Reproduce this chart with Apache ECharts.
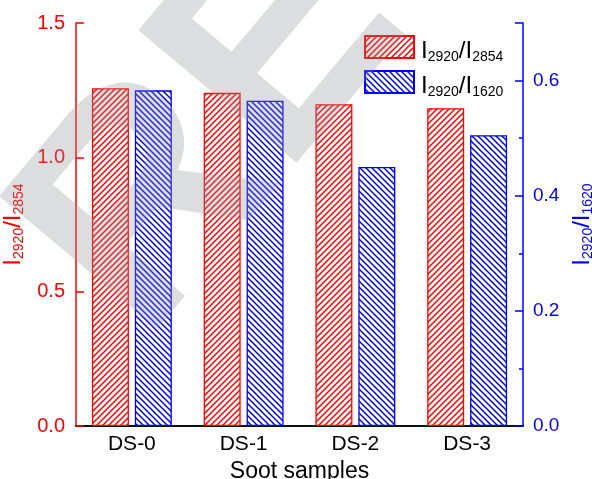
<!DOCTYPE html>
<html>
<head>
<meta charset="utf-8">
<script src="https://cdn.jsdelivr.net/npm/echarts@6/dist/echarts.min.js"></script>
<style>
html,body{margin:0;padding:0;background:#fff;}
#c{width:592px;height:479px;}
</style>
</head>
<body>
<div id="c"></div>
<script>
// ---- data ----
const categories = ['DS-0', 'DS-1', 'DS-2', 'DS-3'];
const ratio2854 = [1.257, 1.240, 1.198, 1.183];   // I2920/I2854 (left axis)
const ratio1620 = [0.583, 0.565, 0.450, 0.505];   // I2920/I1620 (right axis)
const leftTicks = [0, 0.5, 1.0, 1.5];
const rightTicks = [0, 0.2, 0.4, 0.6];

const FONT = '"Liberation Sans", Arial, sans-serif';

function hatch(color, dir) {
  const s = 6;
  const cv = document.createElement('canvas');
  cv.width = s; cv.height = s;
  const ctx = cv.getContext('2d');
  ctx.fillStyle = '#fff';
  ctx.fillRect(0, 0, s, s);
  ctx.strokeStyle = color;
  ctx.lineWidth = 1.5;
  ctx.beginPath();
  if (dir === '/') {
    ctx.moveTo(-1, s + 1); ctx.lineTo(s + 1, -1);
    ctx.moveTo(-1, 1); ctx.lineTo(1, -1);
    ctx.moveTo(s - 1, s + 1); ctx.lineTo(s + 1, s - 1);
  } else {
    ctx.moveTo(-1, -1); ctx.lineTo(s + 1, s + 1);
    ctx.moveTo(s - 1, -1); ctx.lineTo(s + 1, 1);
    ctx.moveTo(-1, s - 1); ctx.lineTo(1, s + 1);
  }
  ctx.stroke();
  return { image: cv, repeat: 'repeat' };
}

function richFor(color, main, sub) {
  return {
    m: { fontSize: main, fontFamily: FONT, color: color, lineHeight: 26, verticalAlign: 'middle' },
    s: { fontSize: sub, fontFamily: FONT, color: color, lineHeight: 16, verticalAlign: 'bottom' }
  };
}
const label2854 = '{m|I}{s|2920}{m|/I}{s|2854}';
const label1620 = '{m|I}{s|2920}{m|/I}{s|1620}';

const RED = '#ff0000', BLUE = '#0000ff';

const chart = echarts.init(document.getElementById('c'), null, { renderer: 'canvas' });
chart.setOption({
  animation: false,
  backgroundColor: '#fff',
  grid: { left: 76, right: 69, top: 23, bottom: 53, containLabel: false, outerBoundsMode: 'none' },
  legend: {
    left: 364, top: 35, orient: 'vertical', padding: 0,
    itemWidth: 49, itemHeight: 22, itemGap: 6,
    icon: 'rect',
    data: ['r2854', 'r1620'],
    formatter: function (n) { return n === 'r2854' ? label2854 : label1620; },
    textStyle: { rich: richFor('#000', 24, 14), padding: [8, 0, 0, 2] }
  },
  xAxis: [{
    type: 'category', data: categories, position: 'bottom',
    axisLine: { lineStyle: { color: '#000', width: 1.5 } },
    axisTick: { show: false },
    axisLabel: { color: '#000', fontSize: 21, fontFamily: FONT, margin: 8 },
    name: 'Soot samples', nameLocation: 'middle', nameGap: 31,
    nameTextStyle: { color: '#000', fontSize: 23, fontFamily: FONT }
  }, {
    type: 'category', data: categories, position: 'top',
    axisLine: { lineStyle: { color: '#000', width: 1.5 } },
    axisTick: { show: false }, axisLabel: { show: false }
  }],
  yAxis: [{
    type: 'value', position: 'left', min: 0, max: 1.5, interval: 0.5,
    axisLine: { show: true, lineStyle: { color: RED, width: 1.5 } },
    axisTick: { show: true, inside: true, length: 8, lineStyle: { color: RED, width: 1.5 } },
    axisLabel: { color: RED, fontSize: 20, fontFamily: FONT, margin: 11,
      formatter: function (v) { return v.toFixed(1); } },
    splitLine: { show: false },
    name: label2854, nameLocation: 'middle', nameRotate: 90, nameGap: 41,
    nameTextStyle: { rich: richFor(RED, 24, 14) }
  }, {
    type: 'value', position: 'right', min: 0, max: 0.7, interval: 0.2,
    axisLine: { show: true, lineStyle: { color: BLUE, width: 1.5 } },
    axisTick: { show: true, inside: true, length: 8, lineStyle: { color: BLUE, width: 1.5 } },
    axisLabel: { color: BLUE, fontSize: 19, fontFamily: FONT, margin: 10,
      formatter: function (v) { return rightTicks.indexOf(Math.round(v * 10) / 10) >= 0 ? v.toFixed(1) : ''; } },
    splitLine: { show: false },
    name: label1620, nameLocation: 'middle', nameRotate: 90, nameGap: 44,
    nameTextStyle: { rich: richFor(BLUE, 24, 14) }
  }, {
    type: 'value', position: 'right', min: 0, max: 0.7, interval: 0.1,
    axisLine: { show: false },
    axisTick: { show: true, inside: true, length: 4, lineStyle: { color: BLUE, width: 1.5 } },
    axisLabel: { show: false }, splitLine: { show: false }
  }],
  series: [{
    name: 'r2854', type: 'bar', xAxisIndex: 0, yAxisIndex: 0, data: ratio2854,
    barWidth: 37, barGap: '16%',
    itemStyle: { color: hatch(RED, '/'), borderColor: RED, borderWidth: 1.3 }
  }, {
    name: 'r1620', type: 'bar', xAxisIndex: 0, yAxisIndex: 1, data: ratio1620,
    barWidth: 37, barGap: '16%',
    itemStyle: { color: hatch(BLUE, '\\'), borderColor: BLUE, borderWidth: 1.3 }
  }],
  graphic: [{
    type: 'text', x: 81, y: 291, rotation: 50 * Math.PI / 180, z: 100, silent: true,
    style: { text: 'RE', font: 'bold 300px "Liberation Sans", Arial, sans-serif',
      fill: 'rgba(140,142,148,0.3)', align: 'left', verticalAlign: 'middle' }
  }]
});
</script>
</body>
</html>
